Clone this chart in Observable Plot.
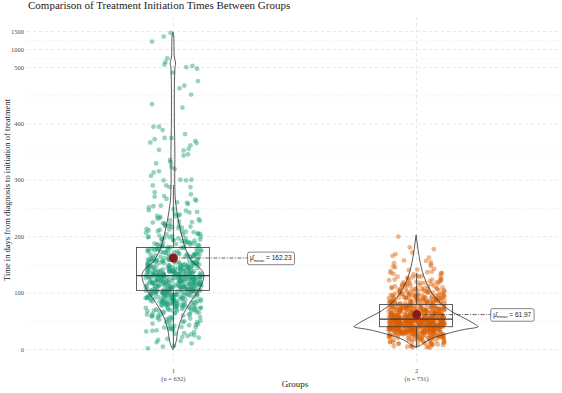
<!DOCTYPE html>
<html><head><meta charset="utf-8">
<script src="https://cdn.jsdelivr.net/npm/d3@7"></script>
<script src="https://cdn.jsdelivr.net/npm/@observablehq/plot@0.6"></script>
<style>
body{margin:0;background:#fff;}
#wrap{position:relative;width:562px;height:393px;}
#title{position:absolute;left:28px;top:-1px;line-height:12px;font-family:"Liberation Serif",serif;font-size:11px;color:#1a1a1a;white-space:nowrap;}
svg{display:block;}
</style></head><body>
<div id="wrap"><div id="title">Comparison of Treatment Initiation Times Between Groups</div></div>
<script>
// ---- data ----
const groups = [1, 2];
const groupNames = ["1", "2"];
const groupN = [632, 731];
const means = [162.23, 61.97];
const q1 = [104, 39.5];
const medians = [131, 54];
const q3 = [180, 79];
const whiskerLow = [2, 3];
const whiskerHigh = [291, 135];
const yTicks = [0, 100, 200, 300, 400, 500, 1000, 1500];
const yMinorTicks = [50, 150, 250, 350, 450, 750, 1250];
const yLabel = "Time in days from diagnosis to initiation of treatment";
const xLabel = "Groups";

// group 1 points (dense part, jittered)
const g1Values = [2,7,11,15,19,21,24,27,29,31,33,35,36,38,39,40,42,43,45,46,48,49,50,51,53,54,55,57,58,59,60,61,62,63,64,65,66,67,68,69,69,70,71,71,72,73,74,74,75,76,76,77,78,78,79,79,80,80,81,81,82,82,83,83,84,84,85,85,86,86,87,87,88,88,89,89,90,90,91,91,92,92,93,93,94,94,95,95,95,96,96,97,97,97,98,98,99,99,99,100,100,100,101,101,101,102,102,102,103,103,103,104,104,104,105,105,105,106,106,106,107,107,107,108,108,109,109,109,110,110,110,111,111,111,112,112,112,113,113,113,114,114,114,115,115,115,116,116,116,117,117,117,118,118,118,119,119,119,119,120,120,120,121,121,121,122,122,122,123,123,123,124,124,124,125,125,125,126,126,126,127,127,127,128,128,128,129,129,129,129,130,130,130,131,131,131,132,132,132,133,133,133,134,134,134,135,135,135,136,136,136,137,137,137,138,138,138,139,139,139,139,140,140,141,141,142,142,143,143,144,144,145,145,145,146,146,147,147,147,148,148,149,149,149,150,150,151,151,152,152,153,153,154,154,155,155,156,156,157,157,158,158,159,159,160,160,161,162,162,163,164,164,165,166,166,167,168,168,169,169,170,171,172,172,173,174,175,175,176,177,178,178,179,179,180,181,182,183,184,185,186,186,187,188,189,190,191,192,193,194,195,196,197,198,199,200,201,203,204,205,206,208,209,210,212,213,215,216,218,219,220,222,224,225,227,229,231,233,235,237,239,241,244,246,249,252,255,258,261,264,267,271,275];
const g1ValuesB = [5,13,17,22,25,28,32,34,37,39,41,44,47,49,52,54,56,57,59,60,62,63,65,66,68,69,70,71,72,73,74,75,76,77,78,79,80,81,82,82,83,84,85,85,86,87,88,88,89,90,91,91,92,93,93,94,95,95,96,97,97,98,98,99,99,100,101,101,102,102,103,103,104,104,105,105,106,106,107,107,108,108,109,110,110,111,111,112,112,113,113,114,114,115,115,116,116,117,117,118,118,119,119,120,120,121,121,122,122,123,123,124,124,125,125,126,126,127,127,128,128,129,129,130,130,131,131,132,132,133,133,134,134,135,135,136,136,137,137,138,138,139,139,140,140,141,141,142,143,143,144,145,145,146,147,147,148,149,149,150,151,152,153,153,154,155,156,156,157,158,159,159,160,161,162,163,164,165,166,167,168,169,170,171,172,174,175,176,177,178,179,180,182,183,185,186,188,189,190,192,194,195,197,199,200,202,205,207,209,211,214,217,219,221,223,226,228,232,236,238,243,247,254,260,266,272];
// group 1 sparse upper points with their read-off horizontal offsets
const g1TailValues = [1464,1361,1222,755,647,580,545,508,498,491,476,468,463,452,435,429,395,395,389,382,375,375,373,370,367,366,362,356,354,353,346,344,336,332,330,324,320,316,314,308,301,301,300,300,291,291,288,288,279];
const g1TailOffsets = [-0.012,-0.040,-0.088,-0.025,-0.033,-0.037,0.078,0.053,0.097,-0.002,0.101,0.045,0.025,0.073,-0.088,0.037,-0.082,-0.059,-0.044,0.048,-0.036,-0.008,-0.077,0.090,-0.095,0.095,0.070,0.063,-0.059,0.042,0.060,0.042,-0.014,-0.012,-0.071,-0.008,0.005,-0.059,-0.081,-0.092,0.029,0.074,-0.040,0.052,-0.085,-0.030,0.070,-0.016,-0.077];

// group 2 points
const g2Values = [3,4,5,6,7,8,9,9,10,11,11,12,13,13,14,15,15,16,17,17,18,18,19,19,20,20,21,21,21,22,22,22,23,23,23,24,24,24,25,25,25,26,26,26,26,27,27,27,27,28,28,28,28,29,29,29,29,30,30,30,30,30,31,31,31,31,31,32,32,32,32,32,33,33,33,33,33,33,34,34,34,34,34,34,35,35,35,35,35,35,36,36,36,36,36,36,37,37,37,37,37,37,38,38,38,38,38,39,39,39,39,39,40,40,40,40,40,40,40,40,41,41,41,41,41,41,41,41,42,42,42,42,42,42,42,42,43,43,43,43,43,43,43,43,44,44,44,44,44,44,44,44,45,45,45,45,45,45,45,45,46,46,46,46,46,46,46,46,47,47,47,47,47,47,47,47,48,48,48,48,48,48,48,48,49,49,49,49,49,49,49,49,50,50,50,50,50,50,50,50,51,51,51,51,51,51,51,51,52,52,52,52,52,52,52,52,53,53,53,53,53,53,53,53,54,54,54,54,54,54,55,55,55,55,55,55,56,56,56,56,56,56,57,57,57,57,57,57,58,58,58,58,58,58,59,59,59,59,59,60,60,60,60,60,61,61,61,61,61,62,62,62,62,63,63,63,63,64,64,64,64,65,65,65,65,66,66,66,66,67,67,67,67,68,68,68,68,69,69,69,69,70,70,70,70,71,71,71,71,72,72,72,72,73,73,73,73,74,74,74,74,75,75,75,75,76,76,76,76,77,77,77,77,78,78,78,79,79,80,80,80,81,81,81,82,82,82,83,83,83,84,84,84,85,85,85,86,86,86,87,87,87,88,88,89,89,90,90,90,91,91,91,92,92,92,93,93,94,94,94,95,95,96,96,96,97,97,98,98,99,99,100,100,101,101,102,102,103,103,104,104,105,106,106,107,107,108,109,109,110,111,112,112,113,114,115,116,117,118,118,119,120,121,122,123,124,125,126,128,129,130,132,134,136,137,139,141,143,146,148,151,157,166,169];
const g2ValuesB = [4,5,6,8,9,10,11,12,13,14,15,16,17,18,19,20,20,21,21,22,22,23,23,24,24,25,25,26,26,27,27,27,28,28,29,29,30,30,30,31,31,31,32,32,32,32,33,33,33,33,34,34,34,34,35,35,35,35,36,36,36,36,37,37,37,37,38,38,38,39,39,40,40,40,40,40,41,41,41,41,41,42,42,42,42,42,43,43,43,43,43,44,44,44,44,44,45,45,45,45,45,46,46,46,46,46,47,47,47,47,47,48,48,48,48,48,49,49,49,49,49,50,50,50,50,50,51,51,51,51,51,52,52,52,52,52,53,53,53,53,53,54,54,54,54,55,55,55,55,56,56,56,56,57,57,57,57,58,58,58,59,59,59,60,60,60,61,61,61,62,62,62,63,63,63,64,64,64,65,65,65,66,66,67,67,68,68,69,69,70,70,70,71,71,71,72,72,72,73,73,73,74,74,75,75,76,76,77,77,78,78,79,80,80,81,81,82,82,83,83,84,85,85,86,86,87,87,88,89,89,90,91,91,92,92,93,94,94,95,96,96,97,97,98,99,99,100,101,102,103,104,105,106,107,107,108,109,110,112,113,114,116,117,118,119,121,122,124,126,127,129,131,133,136,138,142,147];
const g2TailValues = [200,181,178,172,163,158,155,153,135];
const g2TailOffsets = [-0.075,-0.028,0.071,-0.018,0.051,-0.052,0.058,-0.093,0.103];

// violin outlines: value and relative half-width
const g1ViolinY = [0,1,10,34,57,81,105,120,131,145,152,165,178,193,223,250,270,300,350,400,450,500,580,650,750,900,1100,1300,1420,1464];
const g1ViolinW = [0,0.008,0.044,0.081,0.148,0.269,0.419,0.484,0.5,0.419,0.339,0.258,0.202,0.161,0.097,0.056,0.035,0.029,0.032,0.024,0.023,0.032,0.044,0.04,0.026,0.019,0.018,0.016,0.01,0];
const g2ViolinY = [3.5,5,11,21,28,34,39.5,45,54,65,79,99,122,152,176,202];
const g2ViolinW = [0,0.044,0.124,0.306,0.527,0.742,1,0.935,0.79,0.597,0.419,0.258,0.15,0.069,0.032,0];

// ---- layout helpers ----
const JW = 0.115;          // jitter half-width (x units)
const VW = 0.255;          // widest violin half-width (x units)
const BW = 0.15;           // box half-width
const LBL = 0.305;         // label offset
// deterministic integer hash -> [0,1) used only to spread points sideways
const hash01 = i => {
  let h = Math.imul(i + 1, 0x9E3779B1);
  h ^= h >>> 15; h = Math.imul(h, 0x85EBCA77);
  h ^= h >>> 13; h = Math.imul(h, 0xC2B2AE3D);
  h ^= h >>> 16;
  return (h >>> 0) / 4294967296;
};
const jit = i => (hash01(i) - 0.5) * 2 * JW;

const pts1 = g1Values.map((v, i) => ({g: 1, v, j: jit(i)}))
  .concat(g1ValuesB.map((v, i) => ({g: 1, v, j: jit(i + 500)})))
  .concat(g1TailValues.map((v, i) => ({g: 1, v, j: g1TailOffsets[i]})));
const pts2 = g2Values.map((v, i) => ({g: 2, v, j: jit(i + 1000)}))
  .concat(g2ValuesB.map((v, i) => ({g: 2, v, j: jit(i + 2000)})))
  .concat(g2TailValues.map((v, i) => ({g: 2, v, j: g2TailOffsets[i]})));

const violin = g1ViolinY.map((v, i) => ({g: 1, v, w: g1ViolinW[i]}))
  .concat(g2ViolinY.map((v, i) => ({g: 2, v, w: g2ViolinW[i]})));

const stats = groups.map((g, i) => ({
  g, name: groupNames[i], n: groupN[i], mean: means[i],
  q1: q1[i], med: medians[i], q3: q3[i], lo: whiskerLow[i], hi: whiskerHigh[i]
}));

const gridColor = "#d9d9d9";
const chart = Plot.plot({
  width: 562,
  height: 393,
  marginLeft: 27,
  marginRight: 0,
  marginTop: 17,
  marginBottom: 31,
  style: {fontFamily: "'Liberation Serif', serif", fontSize: "6.5px", color: "#4d4d4d", background: "white"},
  x: {domain: [0.4, 2.6], axis: null},
  y: {type: "linear", domain: [-23, 500, 1890], range: [362, 67, 17], axis: null},
  marks: [
    Plot.ruleY(yMinorTicks, {stroke: "#e6e6e6", strokeWidth: 0.5, strokeDasharray: "1.5,1.5"}),
    Plot.ruleY(yTicks, {stroke: gridColor, strokeWidth: 0.6, strokeDasharray: "3.5,2.5"}),
    Plot.ruleX(groups, {stroke: gridColor, strokeWidth: 0.6, strokeDasharray: "3.5,2.5"}),
    Plot.axisY({ticks: yTicks, tickSize: 0, tickPadding: 3.5, label: null, fontSize: 6.5, fill: "#4d4d4d", tickFormat: d => String(d)}),
    Plot.text(stats, {x: "g", text: d => d.name + "\n(n = " + d.n + ")", frameAnchor: "bottom", lineAnchor: "top", dy: 4.5, lineHeight: 1.3, fontSize: 6.5, fill: "#4d4d4d"}),
    Plot.text([xLabel], {text: d => d, frameAnchor: "bottom", dy: 24.5, fontSize: 9, fill: "#1a1a1a"}),
    Plot.text([yLabel], {text: d => d, frameAnchor: "left", rotate: -90, dx: -20, textAnchor: "middle", fontSize: 8.5, fill: "#1a1a1a"}),
    Plot.dot(pts1, {x: d => d.g + d.j, y: "v", r: 2.4, fill: "#1b9e77", fillOpacity: 0.45}),
    Plot.dot(pts2, {x: d => d.g + d.j, y: "v", r: 2.4, fill: "#d95f02", fillOpacity: 0.45}),
    Plot.ruleX(stats, {x: "g", y1: "q3", y2: "hi", stroke: "#3a3a3a", strokeWidth: 0.8}),
    Plot.ruleX(stats, {x: "g", y1: "lo", y2: "q1", stroke: "#3a3a3a", strokeWidth: 0.8}),
    Plot.rect(stats, {x1: d => d.g - BW, x2: d => d.g + BW, y1: "q1", y2: "q3", fill: "none", stroke: "#3a3a3a", strokeWidth: 0.8}),
    Plot.ruleY(stats, {y: "med", x1: d => d.g - BW, x2: d => d.g + BW, stroke: "#3a3a3a", strokeWidth: 1.2}),
    Plot.areaX(violin, {y: "v", x1: d => d.g - d.w * VW, x2: d => d.g + d.w * VW, z: "g", fill: "none", stroke: "#333", strokeWidth: 0.8, curve: "monotone-y"}),
    Plot.link(stats, {x1: "g", x2: d => d.g + LBL, y1: "mean", y2: "mean", stroke: "#222", strokeWidth: 0.7, strokeDasharray: "4,1.5,1,1.5"}),
    Plot.dot(stats, {x: "g", y: "mean", r: 4.5, fill: "#8b1a1a"}),
    Plot.text(stats, {x: d => d.g + LBL, y: "mean", text: d => "\u03BC\u0302 = " + d.mean.toFixed(2), textAnchor: "start", dx: 2.5, fontSize: 6.5, fontFamily: "'Liberation Sans', sans-serif", fill: "#1a1a1a"})
  ]
});
document.getElementById("wrap").appendChild(chart);

// mean labels: subscript "mean" and a rounded box behind each
const NS = "http://www.w3.org/2000/svg";
chart.querySelectorAll("text").forEach(t => {
  const s = t.textContent;
  if (!s.startsWith("\u03BC")) return;
  const rest = s.slice(s.indexOf("="));
  while (t.firstChild) t.removeChild(t.firstChild);
  const a = document.createElementNS(NS, "tspan"); a.textContent = "\u03BC\u0302";
  const b = document.createElementNS(NS, "tspan"); b.textContent = "mean";
  b.setAttribute("font-size", "4.2"); b.setAttribute("dy", "1.6");
  const c = document.createElementNS(NS, "tspan"); c.textContent = " " + rest;
  c.setAttribute("dy", "-1.6");
  t.append(a, b, c);
  const bb = t.getBBox();
  const r = document.createElementNS(NS, "rect");
  r.setAttribute("x", bb.x - 2.5);
  r.setAttribute("y", bb.y - 2);
  r.setAttribute("width", bb.width + 5);
  r.setAttribute("height", bb.height + 4);
  r.setAttribute("rx", 1.8);
  r.setAttribute("fill", "white");
  r.setAttribute("stroke", "#333");
  r.setAttribute("stroke-width", 0.6);
  if (t.getAttribute("transform")) r.setAttribute("transform", t.getAttribute("transform"));
  t.parentNode.insertBefore(r, t);
});
</script>
</body></html>
